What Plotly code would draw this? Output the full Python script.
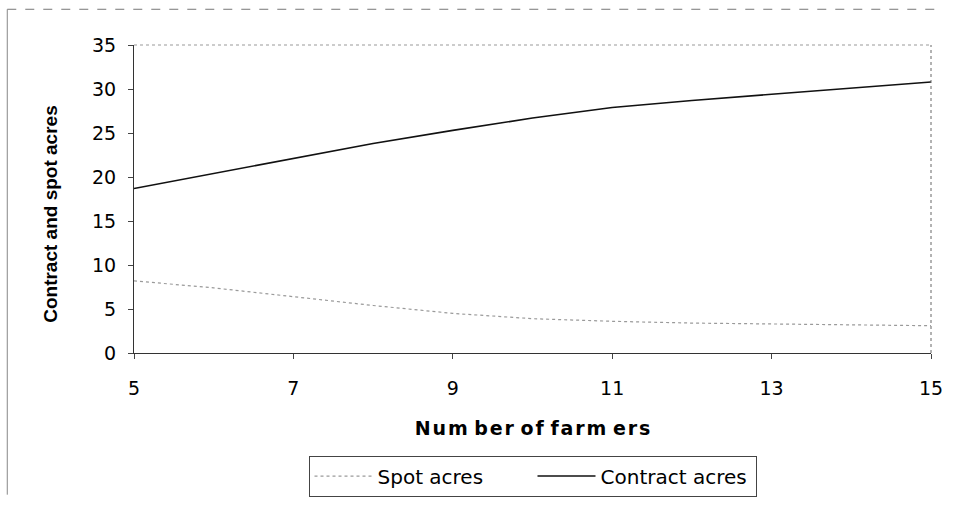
import plotly.graph_objects as go

farmers = [5, 6, 7, 8, 9, 10, 11, 12, 13, 14, 15]
spot_acres = [8.2, 7.4, 6.4, 5.4, 4.5, 3.9, 3.6, 3.4, 3.3, 3.2, 3.1]
contract_acres = [18.7, 20.4, 22.1, 23.8, 25.3, 26.7, 27.9, 28.7, 29.4, 30.1, 30.8]

x_ticks = [5, 7, 9, 11, 13, 15]
y_ticks = [0, 5, 10, 15, 20, 25, 30, 35]

HAIR = "\u200a"  # slight letter spacing for the x-axis title
x_title = " ".join(HAIR.join(w) for w in ["Num", "ber", "of", "farm", "ers"])

fig = go.Figure()
fig.add_trace(go.Scatter(
    x=farmers, y=spot_acres, name="Spot acres", mode="lines",
    line=dict(color="#9a9a9a", width=1.2, dash="dot"),
))
fig.add_trace(go.Scatter(
    x=farmers, y=contract_acres, name="Contract acres", mode="lines",
    line=dict(color="#111111", width=1.6),
))

tick_font = "DejaVu Sans, sans-serif"
fig.update_layout(
    width=956, height=509,
    margin=dict(l=134, r=25, t=45, b=146),
    paper_bgcolor="white", plot_bgcolor="white",
    font=dict(family=tick_font, size=19, color="black"),
    showlegend=True,
    legend=dict(
        orientation="h", x=0.5, xanchor="center", y=-0.333, yanchor="top",
        bordercolor="#444444", borderwidth=1,
        font=dict(family=tick_font, size=20),
        itemwidth=58, entrywidth=150, tracegroupgap=0,
    ),
    xaxis=dict(
        range=[5, 15], tickvals=x_ticks,
        showgrid=False, zeroline=False,
        showline=True, linecolor="#333333", linewidth=1.2,
        ticks="outside", ticklen=5, tickcolor="#444444",
        ticklabelstandoff=13,
        tickfont=dict(size=19),
        title=dict(text="<b>" + x_title + "</b>",
                   font=dict(family=tick_font, size=19), standoff=23),
    ),
    yaxis=dict(
        range=[0, 35], tickvals=y_ticks,
        showgrid=False, zeroline=False,
        showline=True, linecolor="#333333", linewidth=1.2,
        ticks="outside", ticklen=5, tickcolor="#444444",
        ticklabelstandoff=8,
        tickfont=dict(size=19),
    ),
    annotations=[
        dict(text="<b>Contract and spot acres</b>", textangle=-90,
             xref="paper", yref="paper", x=-0.105, y=0.453,
             xanchor="center", yanchor="middle", showarrow=False,
             font=dict(family="Liberation Sans, Arial, sans-serif", size=19)),
    ],
    shapes=[
        # dotted frame closing the plot area on top and right
        dict(type="line", xref="paper", yref="paper", x0=0, x1=1, y0=1, y1=1,
             line=dict(color="#999999", width=1, dash="dot")),
        dict(type="line", xref="paper", yref="paper", x0=1, x1=1, y0=0, y1=1,
             line=dict(color="#666666", width=1, dash="dot")),
        # outer chart border (top and left edges)
        dict(type="line", xref="paper", yref="paper",
             x0=-0.159, x1=1.015, y0=1.116, y1=1.116,
             line=dict(color="#777777", width=1, dash="dash")),
        dict(type="line", xref="paper", yref="paper",
             x0=-0.159, x1=-0.159, y0=1.116, y1=-0.46,
             line=dict(color="#888888", width=1)),
    ],
)

fig.write_html("out.html")
